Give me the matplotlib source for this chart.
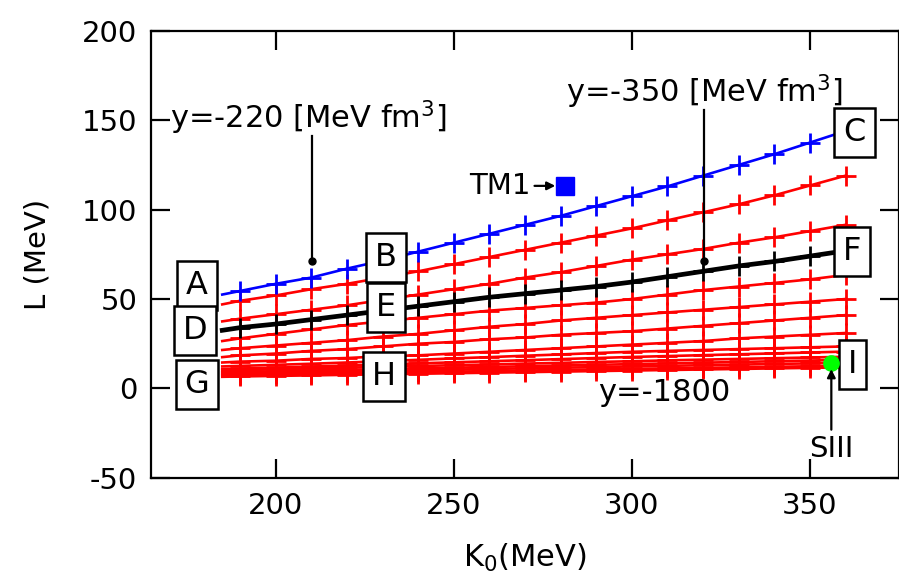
import numpy as np
import matplotlib
matplotlib.use("Agg")
import matplotlib.pyplot as plt

plt.rcParams['font.family'] = ['DejaVu Sans']
plt.rcParams['axes.unicode_minus'] = False

# K0 grid (MeV); first point is the line start, markers from 190 on
k0 = [185, 190, 200, 210, 220, 230, 240, 250, 260, 270, 280, 290, 300,
      310, 320, 330, 340, 350, 360]

# L (MeV) for each curve
l_blue = [52.5, 54.5, 58.5, 62, 67, 71.5, 76.5, 81.5, 86.5, 91.5, 96.5,
          102, 107.5, 113, 119, 125, 131, 137.5, 144]
l_black = [32.5, 34, 36, 38.5, 41, 43.5, 46, 48.5, 51, 53, 55, 57, 59.5,
           62.5, 65.5, 68.5, 71, 74, 77]
red_1 = [47, 49, 52, 55.5, 58.5, 62, 65.5, 69.5, 73.5, 77.5, 81.5, 85.5,
         89.5, 94, 98.5, 103, 108, 113.5, 119]
red_2 = [37.5, 39, 41.5, 44, 46.5, 49.5, 52.5, 55.5, 58.5, 62, 65, 68.5,
         72, 75, 78, 81.5, 84.5, 88, 91.5]
red_3 = [26.5, 28, 30.5, 33, 35.5, 37.5, 39.5, 41.5, 43.5, 45, 46.5, 48,
         50, 52.5, 55, 57, 59, 61, 63.5]
red_4 = [21.5, 22.5, 24, 25.5, 27, 29, 30.5, 32.5, 34.5, 36, 38, 39.5, 41,
         42.5, 44, 45.5, 47, 48.5, 50]
red_5 = [17.5, 18.5, 19.5, 21, 22, 23.5, 25, 26, 27.5, 28.5, 30, 31, 32,
         33.5, 35, 36.5, 38, 39.5, 41]
red_6 = [14.5, 15, 15.5, 16.5, 17, 18, 18.5, 19.5, 20.5, 21.5, 22.5, 23.5,
         24.5, 25.5, 26.5, 28, 29, 30, 31]
red_7 = [12.3, 12.6, 13.2, 13.8, 14.5, 15.2, 16, 16.8, 17.5, 18.3, 19, 19.8,
         20.5, 21, 21.5, 22, 22.5, 23, 23.5]
red_8 = [10.8, 11.1, 11.6, 12.2, 12.8, 13.4, 14, 14.6, 15.2, 15.8, 16.4, 17,
         17.6, 18.1, 18.6, 19.1, 19.6, 20.1, 20.6]
red_9 = [10.0, 10.2, 10.7, 11.2, 11.6, 12.1, 12.5, 13.0, 13.4, 13.9, 14.3,
         14.8, 15.2, 15.7, 16.1, 16.5, 16.9, 17.3, 17.7]
red_10 = [9.0, 9.2, 9.6, 10.0, 10.4, 10.8, 11.2, 11.6, 12.0, 12.4, 12.8,
          13.2, 13.6, 14.0, 14.4, 14.8, 15.2, 15.6, 16.0]
red_11 = [8.2, 8.4, 8.8, 9.1, 9.5, 9.8, 10.2, 10.5, 10.9, 11.2, 11.6, 11.9,
          12.3, 12.6, 13.0, 13.3, 13.7, 14.0, 14.4]
red_12 = [7.4, 7.6, 7.9, 8.2, 8.5, 8.8, 9.1, 9.4, 9.7, 10.0, 10.3, 10.6,
          10.9, 11.2, 11.5, 11.8, 12.1, 12.4, 12.7]
red_13 = [6.5, 6.7, 7.0, 7.3, 7.6, 7.9, 8.2, 8.5, 8.8, 9.1, 9.4, 9.7, 10.0,
          10.3, 10.6, 10.9, 11.2, 11.5, 11.8]

# box labels: letter, K0, L
box_letters = ["A", "B", "C", "D", "E", "F", "G", "H", "I"]
box_k = [177.8, 230.9, 362.5, 177.3, 230.9, 361.8, 177.9, 230.5, 362]
box_l = [57.6, 73.0, 143, 32.5, 45.4, 76.7, 2.3, 6.8, 13.2]

# models
tm1_k, tm1_l = 281.1, 113.3
siii_k, siii_l = 356, 14.3

fig = plt.figure(figsize=(8.99, 5.82), dpi=100)
ax = fig.add_axes([0.168, 0.179, 0.832, 0.768])

mk = dict(marker='+', markersize=14.5, markeredgewidth=2, markevery=slice(1, None))
for red in [red_1, red_2, red_3, red_4, red_5, red_6, red_7, red_8,
            red_9, red_10, red_11, red_12, red_13]:
    ax.plot(k0, red, color='#ff0000', lw=1.9, zorder=2, **mk)
ax.plot(k0, l_black, color='black', lw=3.4, zorder=3, **mk)
ax.plot(k0, l_blue, color='#0000ff', lw=1.9, zorder=3, **mk)

for s, kx, ly in zip(box_letters, box_k, box_l):
    ax.text(kx, ly, s, fontsize=23, ha='center', va='center', zorder=6,
            bbox=dict(boxstyle='square,pad=0.28', fc='white', ec='black', lw=1.8))

# y annotations
ax.text(170.3, 151.4, "y=-220 [MeV fm$^3$]", fontsize=22, va='center', ha='left', zorder=7)
ax.plot([210.3, 210.3], [141, 71], color='black', lw=1.6, zorder=5)
ax.plot(210.3, 71, 'o', color='black', ms=5, zorder=5)
ax.text(281.4, 165.9, "y=-350 [MeV fm$^3$]", fontsize=22, va='center', ha='left', zorder=7)
ax.plot([320.2, 320.2], [156, 71], color='black', lw=1.6, zorder=5)
ax.plot(320.2, 71, 'o', color='black', ms=5, zorder=5)
ax.text(290.4, -2.1, "y=-1800", fontsize=22, va='center', ha='left', zorder=7)

# TM1
ax.plot(tm1_k, tm1_l, 's', color='#0000ff', ms=13, zorder=6)
ax.annotate("TM1", xy=(tm1_k - 2.6, tm1_l), xytext=(271.5, tm1_l),
            fontsize=21, va='center', ha='right', zorder=7,
            arrowprops=dict(arrowstyle='-|>', color='black', lw=1.6,
                            mutation_scale=12, shrinkA=1, shrinkB=0))

# SIII
ax.plot(siii_k, siii_l, 'o', color='#00ff00', ms=11, zorder=6)
ax.annotate("SIII", xy=(siii_k, siii_l - 3.5), xytext=(siii_k, -34),
            fontsize=21, va='center', ha='center', zorder=7,
            arrowprops=dict(arrowstyle='-|>', color='black', lw=1.6,
                            mutation_scale=12, shrinkA=2, shrinkB=0))

ax.set_xlim(165, 375)
ax.set_ylim(-50, 200)
ax.set_xticks([200, 250, 300, 350])
ax.set_yticks([-50, 0, 50, 100, 150, 200])
ax.tick_params(direction='in', length=14, width=1.6, top=True, right=True,
               labelsize=21, pad=10)
for sp in ax.spines.values():
    sp.set_linewidth(1.6)
ax.set_xlabel("K$_0$(MeV)", fontsize=22, labelpad=16)
ax.set_ylabel("L (MeV)", fontsize=21, labelpad=22)

fig.savefig("out.png", dpi=100)
